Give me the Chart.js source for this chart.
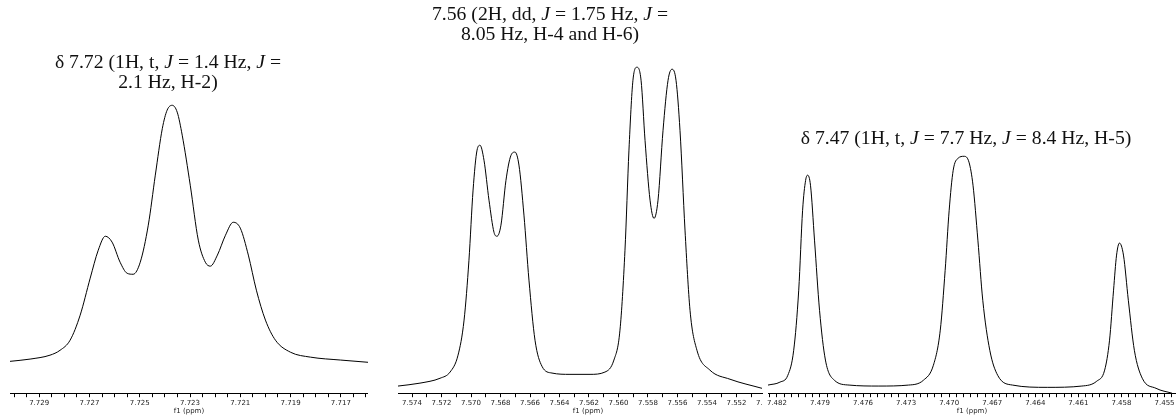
<!DOCTYPE html>
<html>
<head>
<meta charset="utf-8">
<script src="https://cdn.jsdelivr.net/npm/chart.js@4.4.1/dist/chart.umd.min.js"></script>
<style>
  html, body { margin: 0; padding: 0; background: #fff; }
  #wrap { position: relative; width: 1176px; height: 415px; overflow: hidden; background: #fff; }
  .panel { position: absolute; top: 0; height: 415px; }
  .note {
    position: absolute; width: 420px; text-align: center;
    font-family: "Liberation Serif", "Times New Roman", serif;
    font-size: 19.7px; line-height: 20px; color: #111; white-space: nowrap;
  }
</style>
</head>
<body>
<div id="wrap">
  <div class="panel" style="left:10px;width:358px"><canvas id="c1"></canvas></div>
  <div class="panel" style="left:398px;width:380px"><canvas id="c2"></canvas></div>
  <div class="panel" style="left:763px;width:413px"><canvas id="c3"></canvas></div>

  <div class="note" style="left:-42px;top:51px">δ 7.72 (1H, t, <i>J</i> = 1.4 Hz, <i>J</i> =<br>2.1 Hz, H-2)</div>
  <div class="note" style="left:340px;top:3px">7.56 (2H, dd, <i>J</i> = 1.75 Hz, <i>J</i> =<br>8.05 Hz, H-4 and H-6)</div>
  <div class="note" style="left:756px;top:127px">δ 7.47 (1H, t, <i>J</i> = 7.7 Hz, <i>J</i> = 8.4 Hz, H-5)</div>
</div>
<script>
// H-2 multiplet
const ppm1 = [7.73016, 7.72936, 7.72857, 7.72817, 7.72777, 7.72737, 7.72697, 7.72665, 7.72637, 7.72610,
  7.72578, 7.72550, 7.72526, 7.72498, 7.72466, 7.72438, 7.72410, 7.72391, 7.72371, 7.72351,
  7.72331, 7.72299, 7.72267, 7.72239, 7.72219, 7.72191, 7.72159, 7.72128, 7.72100, 7.72068,
  7.72036, 7.72000, 7.71960, 7.71900, 7.71821, 7.71701, 7.71590];
const int1 = [9.8, 10.5, 11.7, 13.2, 16.3, 24.0, 35.4, 44.0, 48.3, 46.5,
  40.3, 36.9, 36.6, 40.3, 51.7, 67.1, 81.5, 87.1, 88.6, 86.5,
  79.4, 64.0, 47.1, 40.3, 39.1, 42.5, 48.6, 52.6, 50.8, 42.5,
  31.7, 22.5, 16.3, 12.6, 11.1, 10.2, 9.5];
const labels1 = ['7.729', '7.727', '7.725', '7.723', '7.721', '7.719', '7.717'];

// H-4 / H-6 doublet of doublets
const ppm2 = [7.57495, 7.57346, 7.57210, 7.57142, 7.57088, 7.57047, 7.57014, 7.56986, 7.56959, 7.56939,
  7.56912, 7.56878, 7.56844, 7.56824, 7.56797, 7.56763, 7.56729, 7.56702, 7.56675, 7.56641,
  7.56607, 7.56566, 7.56519, 7.56451, 7.56329, 7.56193, 7.56092, 7.56031, 7.55990, 7.55956,
  7.55929, 7.55902, 7.55875, 7.55847, 7.55820, 7.55786, 7.55759, 7.55732, 7.55698, 7.55664,
  7.55637, 7.55610, 7.55583, 7.55549, 7.55515, 7.55468, 7.55380, 7.55244, 7.55027];
const int2 = [2.2, 3.1, 4.6, 6.5, 11.7, 22.5, 40.9, 62.5, 74.8, 76.3,
  71.7, 59.4, 49.5, 48.3, 51.7, 65.5, 73.2, 74.2, 70.2, 54.8,
  34.8, 16.3, 8.3, 6.2, 5.8, 5.8, 6.5, 10.2, 19.4, 44.0,
  74.8, 96.3, 100.3, 96.3, 77.8, 59.4, 53.8, 59.4, 80.9, 96.3,
  99.7, 96.3, 80.9, 50.2, 25.5, 13.2, 7.1, 4.3, 1.5];
const labels2 = ['7.574', '7.572', '7.570', '7.568', '7.566', '7.564', '7.562', '7.560',
  '7.558', '7.556', '7.554', '7.552', '7.550'];

// H-5 triplet
const ppm3 = [7.48262, 7.48179, 7.48124, 7.48083, 7.48048, 7.48021, 7.48000, 7.47986, 7.47966, 7.47938,
  7.47903, 7.47862, 7.47800, 7.47697, 7.47490, 7.47283, 7.47179, 7.47110, 7.47062, 7.47028,
  7.47000, 7.46972, 7.46938, 7.46897, 7.46862, 7.46834, 7.46800, 7.46766, 7.46717, 7.46662,
  7.46559, 7.46317, 7.46076, 7.45972, 7.45917, 7.45883, 7.45855, 7.45834, 7.45814, 7.45786,
  7.45752, 7.45710, 7.45655, 7.45559, 7.45448];
const int3 = [2.5, 3.4, 5.5, 13.2, 31.7, 56.3, 65.5, 67.1, 64.0, 47.1,
  25.5, 10.2, 4.0, 2.5, 2.2, 2.5, 4.0, 8.6, 19.4, 37.8,
  56.3, 68.6, 72.3, 72.9, 71.1, 64.0, 47.1, 28.6, 13.2, 5.5,
  2.5, 1.8, 2.2, 3.7, 7.1, 16.3, 31.7, 42.5, 46.2, 42.5,
  28.6, 13.2, 4.6, 1.5, 0.0];
const labels3 = ['7.482', '7.479', '7.476', '7.473', '7.470', '7.467', '7.464', '7.461', '7.458', '7.455'];

const whiteBg = {
  id: 'whiteBg',
  beforeDraw(chart) {
    const ctx = chart.ctx;
    ctx.save();
    ctx.fillStyle = '#fff';
    ctx.fillRect(0, 0, chart.width, chart.height);
    ctx.restore();
  }
};

function spectrum(id, ppm, vals, labels, xmin, xmax, step, padLeft) {
  const pts = ppm.map((p, i) => ({ x: p, y: vals[i] }));
  return new Chart(document.getElementById(id), {
    type: 'line',
    data: {
      datasets: [{
        data: pts,
        borderColor: '#000',
        borderWidth: 1,
        pointRadius: 0,
        fill: false,
        cubicInterpolationMode: 'monotone'
      }]
    },
    options: {
      responsive: true,
      maintainAspectRatio: false,
      animation: false,
      layout: { padding: { left: padLeft, right: 0, top: 0, bottom: 0 } },
      plugins: { legend: { display: false }, tooltip: { enabled: false } },
      scales: {
        y: { display: false, min: 0, max: 121 },
        x: {
          type: 'linear',
          reverse: true,
          min: xmin,
          max: xmax,
          border: { display: true, color: '#000', width: 1 },
          grid: { drawOnChartArea: false, drawTicks: true, tickLength: 4, tickColor: '#000' },
          ticks: {
            stepSize: step,
            includeBounds: false,
            autoSkip: false,
            maxRotation: 0,
            padding: 2,
            color: '#222',
            font: { family: 'DejaVu Sans', size: 7 },
            callback: (v) => {
              const k = v * 1000;
              if (Math.abs(k - Math.round(k)) > 1e-6) return '';
              const s = v.toFixed(3);
              return labels.includes(s) ? s : '';
            }
          },
          title: {
            display: true,
            text: 'f1 (ppm)',
            color: '#222',
            font: { family: 'DejaVu Sans', size: 7 },
            padding: { top: -3, bottom: 0 }
          }
        }
      }
    },
    plugins: [whiteBg]
  });
}

spectrum('c1', ppm1, int1, labels1, 7.71592, 7.73016, 0.0005, 0);
spectrum('c2', ppm2, int2, labels2, 7.54919, 7.57495, 0.001, 0);
spectrum('c3', ppm3, int3, labels3, 7.45420, 7.48262, 0.0005, 5);
</script>
</body>
</html>
